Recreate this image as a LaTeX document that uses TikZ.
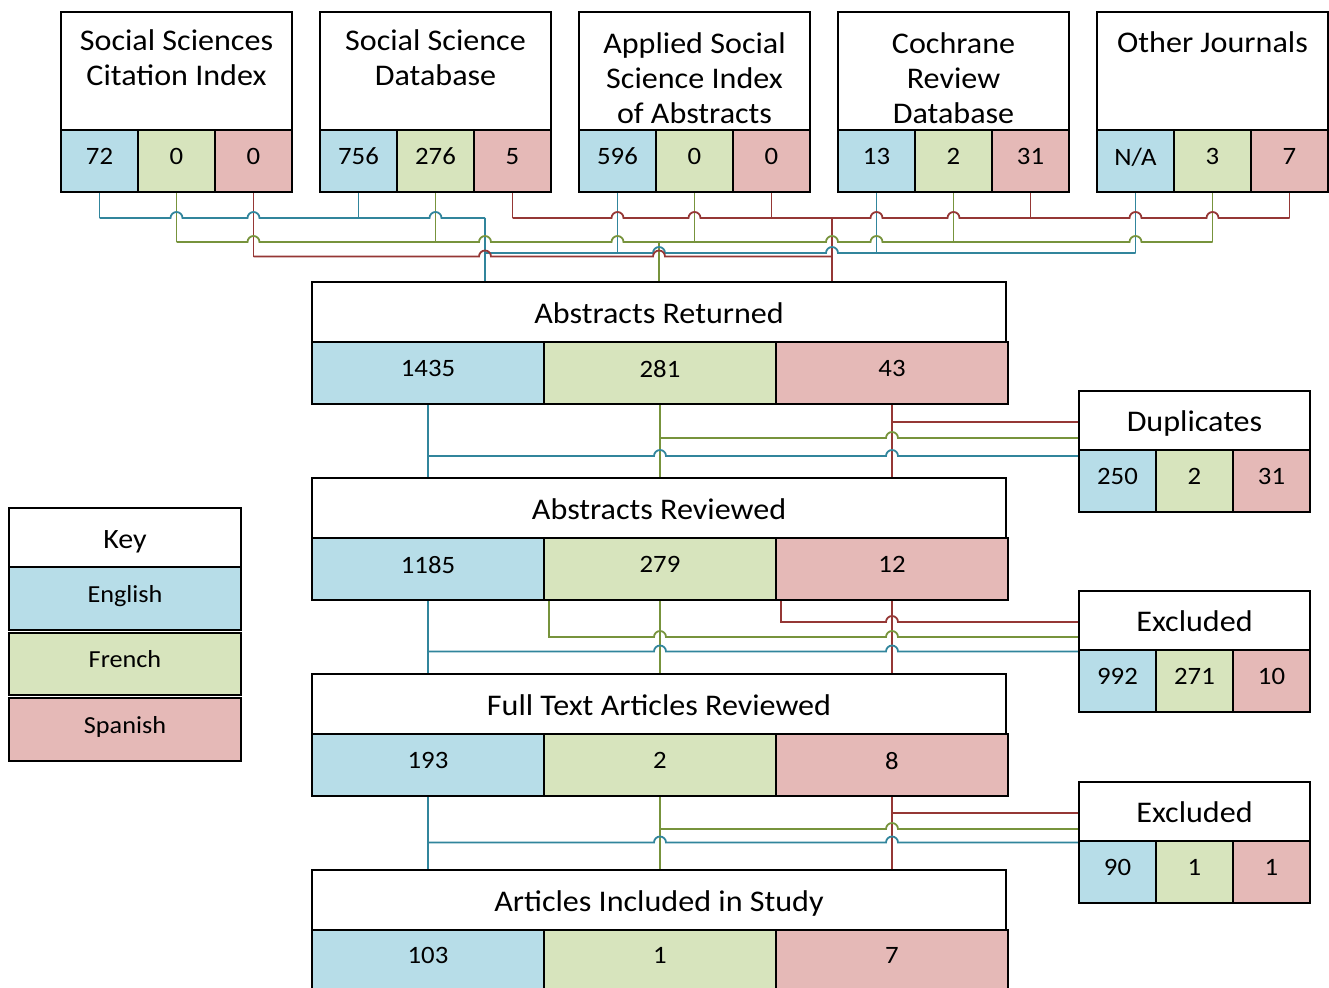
\documentclass[tikz,border=0pt]{standalone}
\usepackage{fontspec}
\setmainfont{Carlito}[FakeStretch=1.07]
\usetikzlibrary{backgrounds}
\definecolor{bfill}{HTML}{B7DDE8}
\definecolor{gfill}{HTML}{D7E4BD}
\definecolor{rfill}{HTML}{E5B9B7}
\definecolor{bline}{HTML}{31859C}
\definecolor{gline}{HTML}{77933C}
\definecolor{rline}{HTML}{953735}
\newcommand\ttlsize{\fontsize{30pt}{35pt}\selectfont}
\newcommand\numsize{\fontsize{25pt}{30pt}\selectfont}
\newcommand\keysize{\fontsize{24.5pt}{29pt}\selectfont}
\tikzset{
  box/.style={draw=black, line width=1.8pt, inner sep=0pt, outer sep=0pt, anchor=north west},
  ttlbox/.style={box, fill=white, font=\ttlsize, text height=24pt, text depth=2pt},
  cellE/.style={box, fill=bfill, minimum height=62pt, font=\numsize, text depth=9pt},
  cellF/.style={cellE, fill=gfill},
  cellS/.style={cellE, fill=rfill},
  ttltext/.style={font=\ttlsize, inner sep=0pt, anchor=base},
  bl/.style={draw=bline, line width=1.8pt},
  gl/.style={draw=gline, line width=1.8pt},
  rl/.style={draw=rline, line width=1.8pt},
  hop/.style args={#1/#2}{insert path={-- (#1-6,#2) arc[start angle=180,end angle=0,radius=6pt]}},
}
\newcommand\srcbox[5]{%
  \node[ttlbox, minimum width=231pt, minimum height=118pt] (#1) at (#2,12) {};
  \node[cellE, minimum width=77pt] (#1e) at (#2,130) {#3};
  \node[cellF, minimum width=77pt] (#1f) at (#2+77,130) {#4};
  \node[cellS, minimum width=77pt] (#1s) at (#2+154,130) {#5};
}
\newcommand\mainbox[6]{%
  \node[ttlbox, minimum width=694pt, minimum height=60pt] (#1) at (312,#2) {#3};
  \node[cellE, minimum width=232pt] (#1e) at (312,#2+60) {#4};
  \node[cellF, minimum width=232pt] (#1f) at (544,#2+60) {#5};
  \node[cellS, minimum width=232pt] (#1s) at (776,#2+60) {#6};
}
\newcommand\sidebox[6]{%
  \node[ttlbox, minimum width=231pt, minimum height=59pt] (#1) at (1079,#2) {#3};
  \node[cellE, minimum width=77pt] (#1e) at (1079,#2+59) {#4};
  \node[cellF, minimum width=77pt] (#1f) at (1156,#2+59) {#5};
  \node[cellS, minimum width=77pt] (#1s) at (1233,#2+59) {#6};
}
\begin{document}
\begin{tikzpicture}[x=1pt,y=-1pt]
\useasboundingbox (0,0) rectangle (1329,987);

% source boxes
\srcbox{sa}{61}{72}{0}{0}
\srcbox{sb}{320}{756}{276}{5}
\srcbox{sc}{579}{596}{0}{0}
\srcbox{sd}{838}{13}{2}{31}
\srcbox{se}{1097}{N/A}{3}{7}
\node[ttltext] (ta1) at (176.5,50.5) {Social Sciences};
\node[ttltext] (ta2) at (176.5,85.5) {Citation Index};
\node[ttltext] (tb1) at (435.5,50.5) {Social Science};
\node[ttltext] (tb2) at (435.5,85.5) {Database};
\node[ttltext] (tc1) at (694.5,53.3) {Applied Social};
\node[ttltext] (tc2) at (694.5,88.3) {Science Index};
\node[ttltext] (tc3) at (694.5,123.3) {of Abstracts};
\node[ttltext] (td1) at (953.5,53.3) {Cochrane};
\node[ttltext] (td2) at (953.5,88.3) {Review};
\node[ttltext] (td3) at (953.5,123.3) {Database};
\node[ttltext] (te1) at (1212.5,52.5) {Other Journals};

% main boxes
\mainbox{ar}{282}{Abstracts Returned}{1435}{281}{43}
\mainbox{rv}{478}{Abstracts Reviewed}{1185}{279}{12}
\mainbox{ft}{674}{Full Text Articles Reviewed}{193}{2}{8}
\node[ttlbox, minimum width=694pt, minimum height=60pt] (ai) at (312,870) {Articles Included in Study};
\node[cellE, minimum width=232pt, minimum height=60pt] (aie) at (312,930) {103};
\node[cellF, minimum width=232pt, minimum height=60pt] (aif) at (544,930) {1};
\node[cellS, minimum width=232pt, minimum height=60pt] (ais) at (776,930) {7};

% side boxes
\sidebox{dup}{391}{Duplicates}{250}{2}{31}
\sidebox{exa}{591}{Excluded}{992}{271}{10}
\sidebox{exb}{782}{Excluded}{90}{1}{1}

% key
\node[ttlbox, minimum width=232pt, minimum height=59pt, font=\fontsize{28pt}{32pt}\selectfont] (key) at (9,508) {Key};
\node[cellE, minimum width=232pt, minimum height=63pt, font=\keysize, text depth=10pt] (keng) at (9,567) {English};
\node[cellF, minimum width=232pt, minimum height=62pt, font=\keysize, text depth=10pt] (kfre) at (9,633) {French};
\node[cellS, minimum width=232pt, minimum height=63pt, font=\keysize, text depth=10pt] (kspa) at (9,698) {Spanish};

\begin{pgfonlayer}{background}
% ---- top section: verticals
\draw[bl] (sae.south) -- (sae.south |- 0,218);
\draw[bl] (sbe.south) -- (sbe.south |- 0,218);
\draw[bl] (sce.south) -- (sce.south |- 0,253);
\draw[bl] (sde.south) -- (sde.south |- 0,253);
\draw[bl] (see.south) -- (see.south |- 0,253);
\draw[bl, line width=2.4pt] (485,218) -- (ar.north -| 485,0);
\draw[gl] (saf.south) -- (saf.south |- 0,242);
\draw[gl] (sbf.south) -- (sbf.south |- 0,242);
\draw[gl] (scf.south) -- (scf.south |- 0,242);
\draw[gl] (sdf.south) -- (sdf.south |- 0,242);
\draw[gl] (sef.south) -- (sef.south |- 0,242);
\draw[gl, line width=2.2pt] (ar.north |- 0,242) -- (ar.north);
\draw[rl] (sas.south) -- (sas.south |- 0,256.5);
\draw[rl] (sbs.south) -- (sbs.south |- 0,218);
\draw[rl] (scs.south) -- (scs.south |- 0,218);
\draw[rl] (sds.south) -- (sds.south |- 0,218);
\draw[rl] (ses.south) -- (ses.south |- 0,218);
\draw[rl, line width=2.4pt] (832,218) -- (ar.north -| 832,0);
% ---- top section: horizontals
\draw[bl] (99.5,218) [hop=176.5/218] [hop=253.5/218] -- (358.5,218) [hop=435.5/218] -- (485,218);
\draw[bl] (485,253) [hop=659/253] [hop=832/253] -- (1135.5,253);
\draw[rl] (253.5,256.5) [hop=485/256.5] [hop=659/256.5] -- (832,256.5);
\draw[rl] (512.5,218) [hop=617.5/218] [hop=694.5/218] -- (832,218) [hop=876.5/218] [hop=953.5/218] -- (1030.5,218) [hop=1135.5/218] [hop=1212.5/218] -- (1289.5,218);
\draw[gl] (176.5,242) [hop=253.5/242] -- (435.5,242) [hop=485/242] [hop=617.5/242] -- (694.5,242) [hop=832/242] [hop=876.5/242] -- (953.5,242) [hop=1135.5/242] -- (1212.5,242);

% ---- returned -> reviewed, duplicates
\draw[bl] (are.south) -- (are.south |- rv.north);
\draw[gl] (arf.south) -- (arf.south |- rv.north);
\draw[rl] (ars.south) -- (ars.south |- rv.north);
\draw[rl] (ars.south |- 0,422) -- (dup.west |- 0,422);
\draw[gl] (arf.south |- 0,438) [hop=892/438] -- (dup.west |- 0,438);
\draw[bl] (are.south |- 0,456) [hop=660/456] [hop=892/456] -- (dupe.west |- 0,456);

% ---- reviewed -> full text, excluded
\coordinate (rvr) at (781,600);
\coordinate (rvg) at (549,600);
\draw[bl] (rve.south) -- (rve.south |- ft.north);
\draw[gl] (rvf.south) -- (rvf.south |- ft.north);
\draw[rl] (rvs.south) -- (rvs.south |- ft.north);
\draw[rl] (rvr) -- (rvr |- 0,622) [hop=892/622] -- (exa.west |- 0,622);
\draw[gl] (rvg) -- (rvg |- 0,637) [hop=660/637] [hop=892/637] -- (exa.west |- 0,637);
\draw[bl] (rve.south |- 0,651.5) [hop=660/651.5] [hop=892/651.5] -- (exae.west |- 0,651.5);

% ---- full text -> included, excluded
\draw[bl] (fte.south) -- (fte.south |- ai.north);
\draw[gl] (ftf.south) -- (ftf.south |- ai.north);
\draw[rl] (fts.south) -- (fts.south |- ai.north);
\draw[rl] (fts.south |- 0,813) -- (exb.west |- 0,813);
\draw[gl] (ftf.south |- 0,829) [hop=892/829] -- (exb.west |- 0,829);
\draw[bl] (fte.south |- 0,842.5) [hop=660/842.5] [hop=892/842.5] -- (exbe.west |- 0,842.5);
\end{pgfonlayer}
\end{tikzpicture}
\end{document}
